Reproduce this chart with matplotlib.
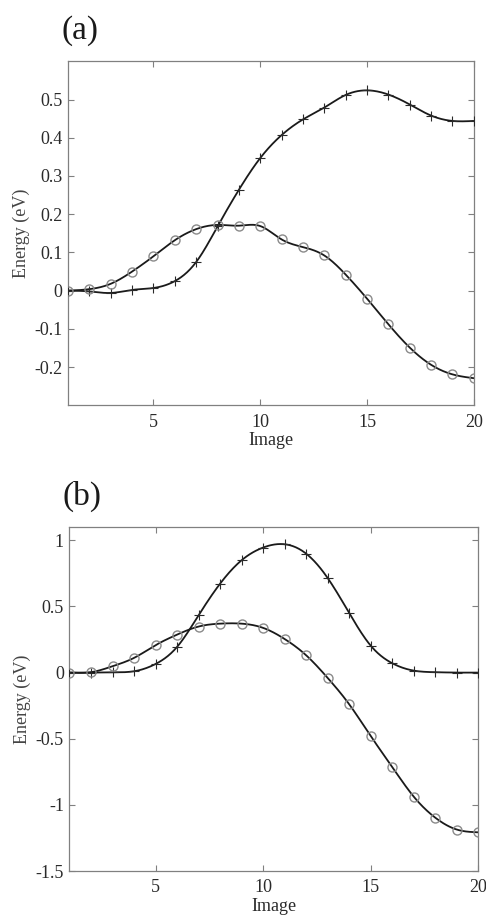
import numpy as np
import matplotlib
matplotlib.use("Agg")
import matplotlib.pyplot as plt

plt.rcParams['font.family'] = ['Liberation Serif', 'DejaVu Serif']
plt.rcParams['axes.unicode_minus'] = False

images = list(range(1, 21))

# panel (a)
a_cross = [0.0, -0.002, -0.006, 0.002, 0.007, 0.025, 0.075, 0.168, 0.264, 0.347,
           0.407, 0.448, 0.479, 0.512, 0.524, 0.513, 0.487, 0.458, 0.444, 0.444]
a_circle = [0.0, 0.004, 0.018, 0.050, 0.090, 0.132, 0.161, 0.172, 0.170, 0.169,
            0.134, 0.114, 0.092, 0.042, -0.021, -0.088, -0.149, -0.194, -0.219, -0.229]

# panel (b)
b_cross = [0.0, 0.0, 0.002, 0.01, 0.065, 0.194, 0.433, 0.672, 0.849, 0.945,
           0.970, 0.899, 0.715, 0.451, 0.204, 0.071, 0.015, 0.003, 0.0, 0.0]
b_circle = [0.0, 0.003, 0.048, 0.111, 0.207, 0.287, 0.348, 0.370, 0.370, 0.338,
            0.254, 0.131, -0.040, -0.239, -0.479, -0.713, -0.937, -1.096, -1.186, -1.207]

a_yticks = [-0.2, -0.1, 0, 0.1, 0.2, 0.3, 0.4, 0.5]
a_ylabels = ['-0.2', '-0.1', '0', '0.1', '0.2', '0.3', '0.4', '0.5']
b_yticks = [-1.5, -1, -0.5, 0, 0.5, 1]
b_ylabels = ['-1.5', '-1', '-0.5', '0', '0.5', '1']
xticks = [5, 10, 15, 20]


def spline(x, y, n=400):
    # natural cubic spline, used only to draw the smooth line through the points
    x = np.asarray(x, float)
    y = np.asarray(y, float)
    k = len(x)
    h = np.diff(x)
    A = np.zeros((k, k))
    r = np.zeros(k)
    A[0, 0] = A[-1, -1] = 1
    for i in range(1, k - 1):
        A[i, i - 1] = h[i - 1]
        A[i, i] = 2 * (h[i - 1] + h[i])
        A[i, i + 1] = h[i]
        r[i] = 3 * ((y[i + 1] - y[i]) / h[i] - (y[i] - y[i - 1]) / h[i - 1])
    c = np.linalg.solve(A, r)
    b = (y[1:] - y[:-1]) / h - h * (2 * c[:-1] + c[1:]) / 3
    d = (c[1:] - c[:-1]) / (3 * h)
    xs = np.linspace(x[0], x[-1], n)
    idx = np.clip(np.searchsorted(x, xs) - 1, 0, k - 2)
    t = xs - x[idx]
    ys = y[idx] + b[idx] * t + c[idx] * t ** 2 + d[idx] * t ** 3
    return xs, ys


fig = plt.figure(figsize=(4.86, 9.15), dpi=100)
ax_a = fig.add_axes([0.140, 0.557, 0.835, 0.376])
ax_b = fig.add_axes([0.143, 0.048, 0.841, 0.376])

panels = [
    (ax_a, a_cross, a_circle, (-0.3, 0.6), a_yticks, a_ylabels, '(a)'),
    (ax_b, b_cross, b_circle, (-1.5, 1.1), b_yticks, b_ylabels, '(b)'),
]

for ax, cross, circ, ylim, yt, yl, tag in panels:
    for vals in (cross, circ):
        xs, ys = spline(images, vals)
        ax.plot(xs, ys, color='#1a1a1a', lw=1.3, zorder=2)
    ax.plot(images, cross, ls='none', marker='+', ms=7, mew=0.8,
            color='#2a2a2a', zorder=3)
    ax.plot(images, circ, ls='none', marker='o', ms=6.5, mew=1.0,
            mfc='none', mec='#8a8a8a', zorder=3)
    ax.set_xlim(1, 20)
    ax.set_ylim(*ylim)
    ax.set_xticks(xticks)
    ax.set_xticklabels([str(t) for t in xticks])
    ax.set_yticks(yt)
    ax.set_yticklabels(yl)
    ax.tick_params(direction='in', top=True, right=True, length=4,
                   width=0.8, color='#808080', labelsize=13,
                   labelcolor='#2a2a2a', pad=4)
    ax.tick_params(axis='x', pad=6)
    for s in ax.spines.values():
        s.set_color('#808080')
        s.set_linewidth(0.9)
    ax.set_xlabel('Image', fontsize=13, color='#2a2a2a', labelpad=1)
    ax.set_ylabel('Energy (eV)', fontsize=13, color='#444444')
    ax.yaxis.set_label_coords(-0.094, 0.5)
    ax.text(-0.016, 1.045, tag, transform=ax.transAxes, fontsize=24,
            color='#1a1a1a', ha='left', va='bottom')

fig.savefig('out.png', dpi=100)
